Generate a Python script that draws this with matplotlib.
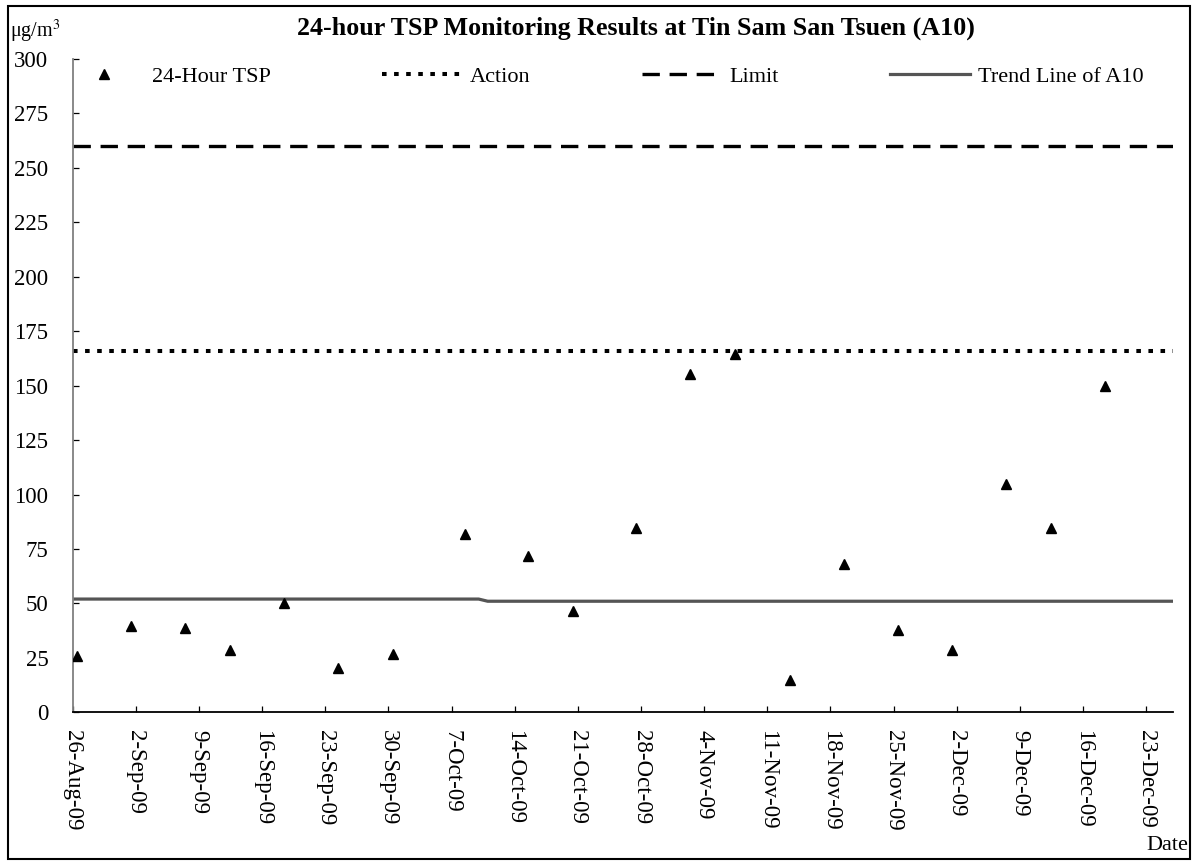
import matplotlib
matplotlib.use('Agg')
import matplotlib.pyplot as plt
import pandas as pd
from matplotlib.lines import Line2D
from matplotlib.patches import Rectangle

# ---------------- data ----------------
sample_dates = ['2009-08-26 11:00', '2009-09-01 11:00', '2009-09-07 11:00', '2009-09-12 11:00',
                '2009-09-18 11:00', '2009-09-24 11:00', '2009-09-30 11:00', '2009-10-08 11:00',
                '2009-10-15 11:00', '2009-10-20 11:00', '2009-10-27 11:00', '2009-11-02 11:00',
                '2009-11-07 11:00', '2009-11-13 11:00', '2009-11-19 11:00', '2009-11-25 11:00',
                '2009-12-01 11:00', '2009-12-07 11:00', '2009-12-12 11:00', '2009-12-18 11:00']
tsp_values = [26, 39.7, 38.7, 28.6, 50.4, 20.2, 26.6, 81.7, 71.8, 46.6,
              84.5, 155.5, 164.7, 14.7, 68, 37.7, 28.5, 104.8, 84.5, 150]
action_level = 166
limit_level = 260
trend_dates = ['2009-08-26', '2009-10-10', '2009-10-11', '2009-12-26']
trend_values = [52, 52, 51, 51]
tick_dates = ['2009-08-26', '2009-09-02', '2009-09-09', '2009-09-16', '2009-09-23', '2009-09-30',
              '2009-10-07', '2009-10-14', '2009-10-21', '2009-10-28', '2009-11-04', '2009-11-11',
              '2009-11-18', '2009-11-25', '2009-12-02', '2009-12-09', '2009-12-16', '2009-12-23']
tick_labels = ['26-Aug-09', '2-Sep-09', '9-Sep-09', '16-Sep-09', '23-Sep-09', '30-Sep-09',
               '7-Oct-09', '14-Oct-09', '21-Oct-09', '28-Oct-09', '4-Nov-09', '11-Nov-09',
               '18-Nov-09', '25-Nov-09', '2-Dec-09', '9-Dec-09', '16-Dec-09', '23-Dec-09']
x_range = ['2009-08-26', '2009-12-26']
y_ticks = [0, 25, 50, 75, 100, 125, 150, 175, 200, 225, 250, 275, 300]
series_labels = ['24-Hour TSP', 'Action', 'Limit', 'Trend Line of A10']
title = '24-hour TSP Monitoring Results at Tin Sam San Tsuen (A10)'

# ---------------- style ----------------
plt.rcParams['font.family'] = ['Liberation Serif', 'DejaVu Serif']
plt.rcParams['mathtext.fontset'] = 'stix'
plt.rcParams['lines.scale_dashes'] = False

W, H = 1197, 865
fig = plt.figure(figsize=(W / 100, H / 100), dpi=100)
L, R, T, B = 72.7, 1173.3, 59.0, 712.3
ax = fig.add_axes([L / W, 1 - B / H, (R - L) / W, (B - T) / H])

xd = pd.to_datetime(sample_dates)
td = pd.to_datetime(trend_dates)

action_style = dict(color='black', lw=2.9, linestyle=(0, (3.3, 5.4)))
limit_style = dict(color='black', lw=2.4, linestyle=(0, (12.5, 7.0)))
trend_style = dict(color='#555555', lw=2.3)
marker_style = dict(marker='^', color='black', markersize=6.8, linestyle='none')

ax.axhline(limit_level, **limit_style)
ax.axhline(action_level, **action_style)
ax.plot(td, trend_values, **trend_style)
ax.plot(xd, tsp_values, **marker_style, zorder=5)

ax.set_xlim(pd.to_datetime(x_range[0]), pd.to_datetime(x_range[1]))
ax.set_ylim(0, 300)
ax.set_yticks(y_ticks)
ax.set_xticks(pd.to_datetime(tick_dates))
ax.set_xticklabels(tick_labels, rotation=-90, ha='center', va='top', fontsize=16.5)

for s in ['top', 'right']:
    ax.spines[s].set_visible(False)
ax.spines['left'].set_color('#808080')
ax.spines['left'].set_linewidth(1.3)
ax.spines['bottom'].set_color('black')
ax.spines['bottom'].set_linewidth(1.3)
ax.tick_params(axis='both', direction='in', length=4.3, width=0.9, color='black')
ax.tick_params(axis='y', labelsize=16.5, pad=17.5)
ax.tick_params(axis='x', pad=13)

# legend
handles = [Line2D([], [], **marker_style),
           Line2D([], [], **action_style),
           Line2D([], [], **limit_style),
           Line2D([], [], **trend_style)]
fig.legend(handles, series_labels, loc='upper left', bbox_to_anchor=(64 / W, 1 - 66 / H),
           ncol=4, frameon=False, handlelength=3.6, handletextpad=0.36, columnspacing=5.0,
           borderpad=0, borderaxespad=0, fontsize=16)

fig.text(636 / W, 1 - 35 / H, title, fontsize=18.7, fontweight='bold', ha='center', va='baseline')
fig.text(10 / W, 1 - 31 / H, r'μg/m$^3$', fontsize=14.5, ha='left', va='center')
fig.text(1188 / W, 1 - 845 / H, 'Date', fontsize=16, ha='right', va='center')

fig.patches.append(Rectangle((8 / W, 1 - 859 / H), (1190 - 8) / W, (859 - 6) / H,
                             transform=fig.transFigure, fill=False, edgecolor='black', lw=1.5))

fig.savefig('out.png', dpi=100)
